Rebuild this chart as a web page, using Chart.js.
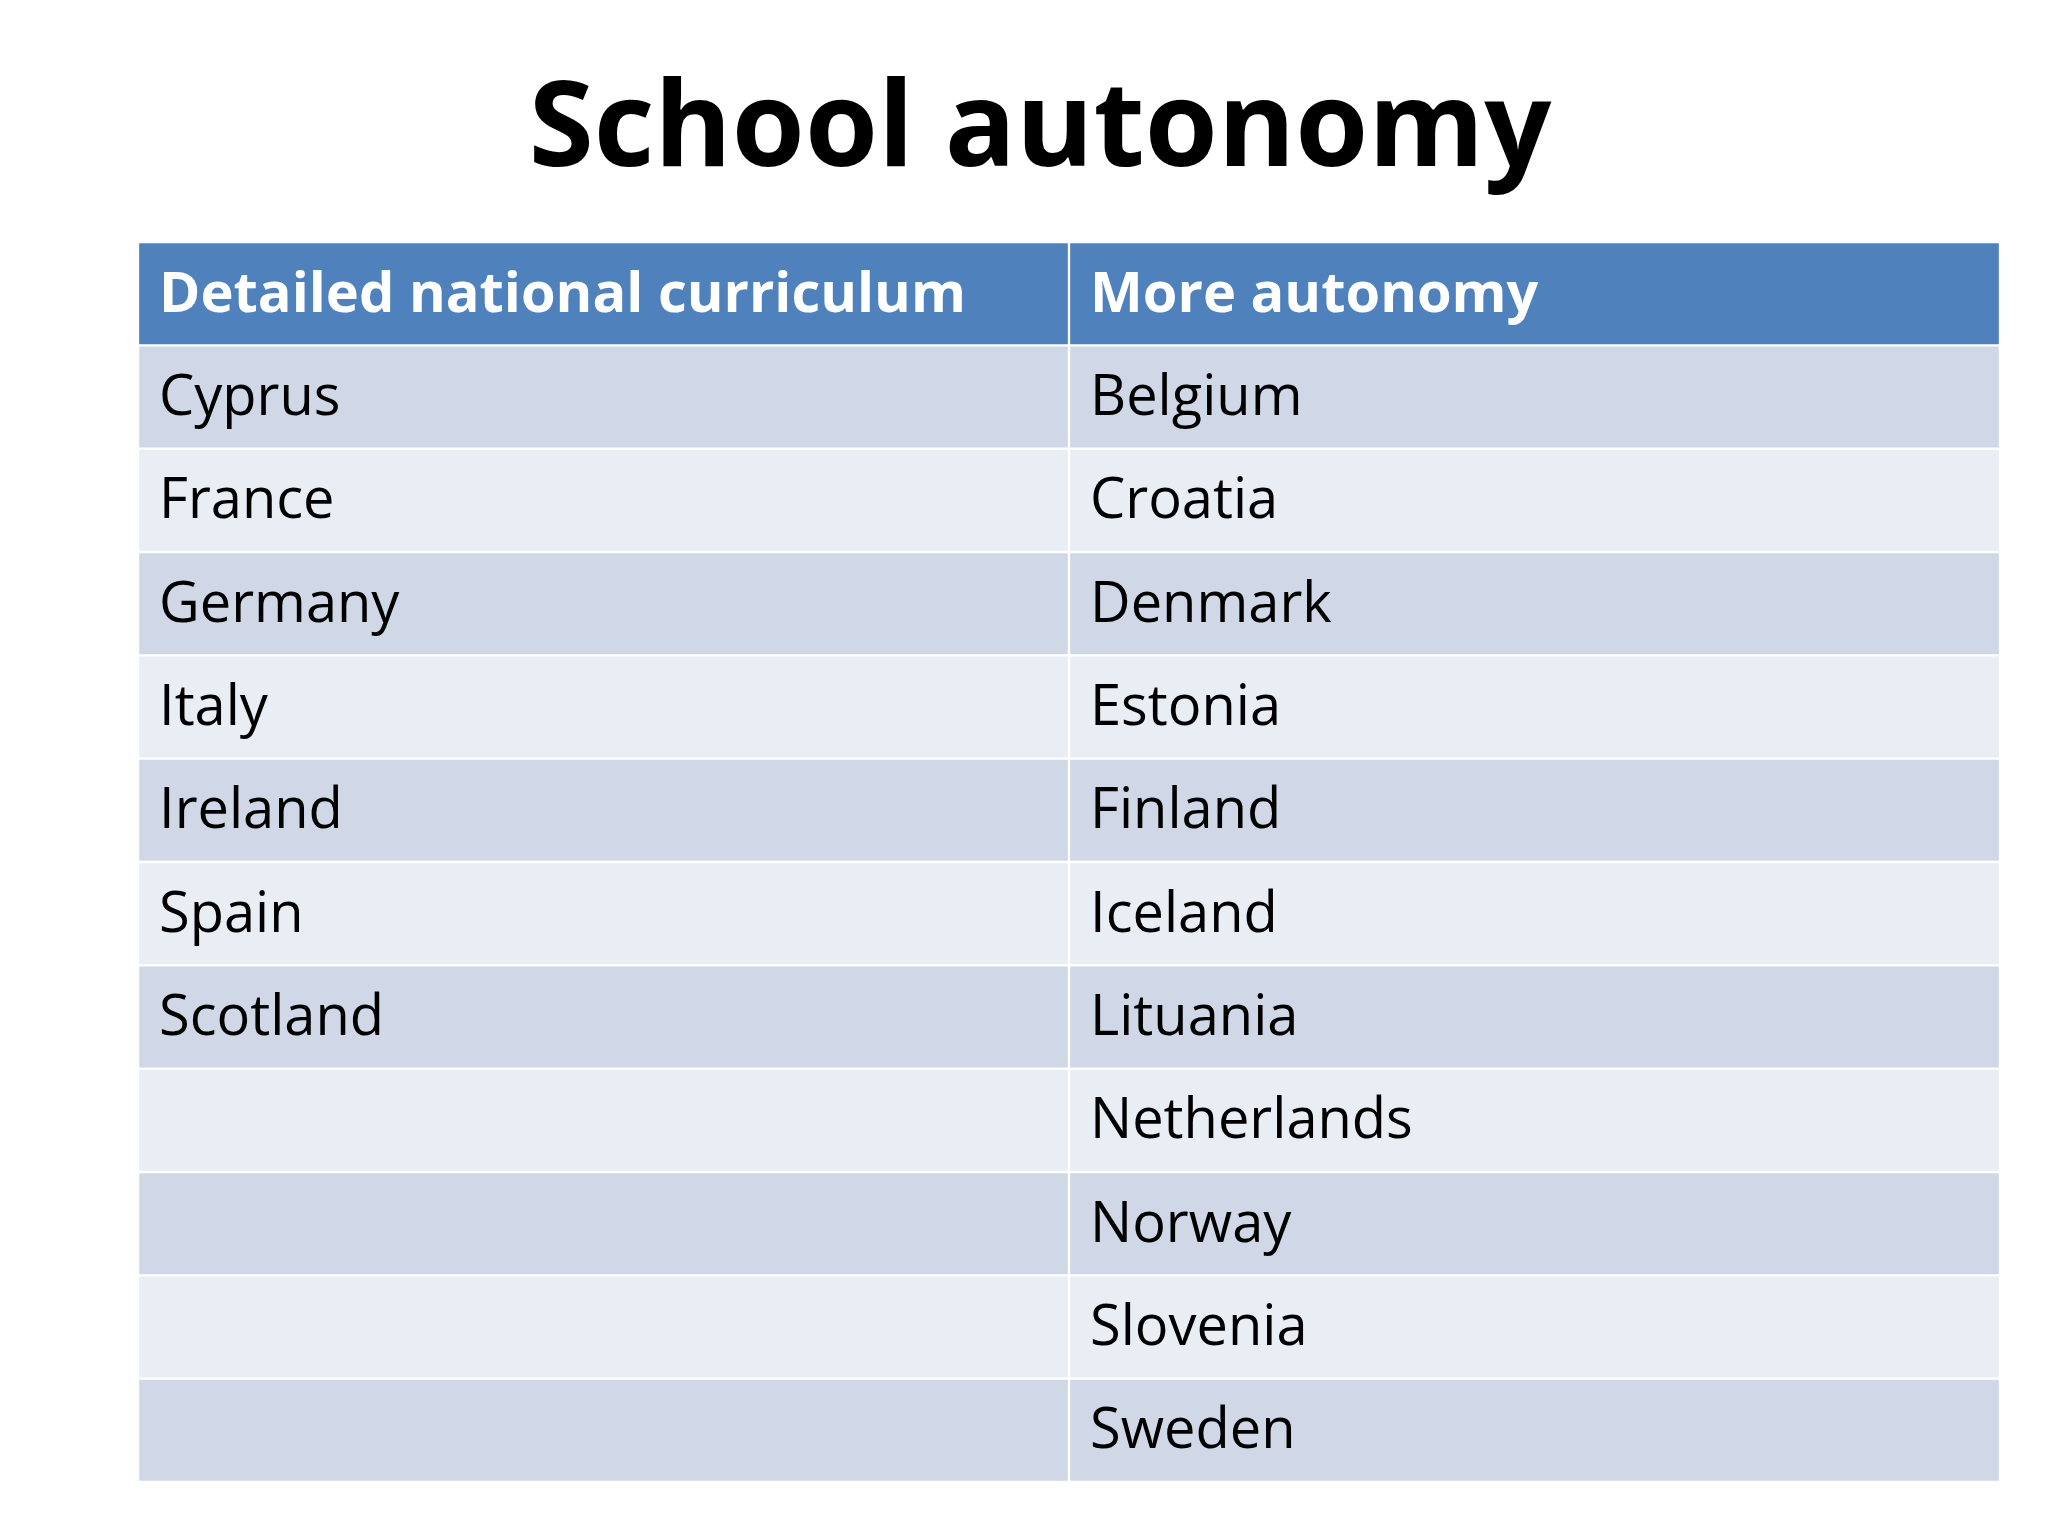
<!DOCTYPE html>
<html><head><meta charset="utf-8">
<script src="https://cdn.jsdelivr.net/npm/chart.js@4"></script>
<style>html,body{margin:0;background:#fff}#w{width:2048px;height:1536px}</style>
</head><body><div id="w"><canvas id="c"></canvas></div>
<script>
const title = "School autonomy";
const headers = ["Detailed national curriculum", "More autonomy"];
const leftCol = ["Cyprus","France","Germany","Italy","Ireland","Spain","Scotland","","","",""];
const rightCol = ["Belgium","Croatia","Denmark","Estonia","Finland","Iceland","Lituania","Netherlands","Norway","Slovenia","Sweden"];

const rows = ["header"].concat(leftCol.map((_, i) => "r" + i));
const colors = rows.map((r, i) => i === 0 ? "#4F81BD" : (i % 2 === 1 ? "#D0D8E8" : "#E9EDF4"));
const texts = [headers].concat(leftCol.map((l, i) => [l, rightCol[i]]));

const textPlugin = {
  id: "tableText",
  afterDatasetsDraw(chart) {
    const ctx = chart.ctx, x = chart.scales.x, y = chart.scales.y;
    ctx.save();
    ctx.fillStyle = "#000";
    ctx.font = "bold 118px 'Open Sans', sans-serif";
    ctx.textAlign = "center"; ctx.textBaseline = "middle";
    ctx.fillText(title, 1040, 132);
    ctx.textAlign = "left";
    texts.forEach((pair, i) => {
      const yc = y.getPixelForValue(i);
      pair.forEach((t, j) => {
        ctx.fillStyle = i === 0 ? "#fff" : "#000";
        ctx.font = (i === 0 ? "bold " : "") + "56px 'Open Sans', sans-serif";
        ctx.fillText(t, x.getPixelForValue(j) + 21, yc + 2);
      });
    });
    ctx.restore();
  }
};

new Chart(document.getElementById("c"), {
  type: "bar",
  data: {
    labels: rows,
    datasets: [
      { data: rows.map(() => [0, 1]), backgroundColor: colors, borderColor: "#fff", borderWidth: 1.5, borderSkipped: false, grouped: false, barPercentage: 1, categoryPercentage: 1 },
      { data: rows.map(() => [1, 2]), backgroundColor: colors, borderColor: "#fff", borderWidth: 1.5, borderSkipped: false, grouped: false, barPercentage: 1, categoryPercentage: 1 }
    ]
  },
  options: {
    indexAxis: "y",
    responsive: true, maintainAspectRatio: false, animation: false,
    layout: { padding: { left: 138, right: 48, top: 242, bottom: 54 } },
    scales: {
      x: { display: false, min: 0, max: 2 },
      y: { display: false }
    },
    plugins: { legend: { display: false }, tooltip: { enabled: false } }
  },
  plugins: [textPlugin]
});
</script></body></html>
